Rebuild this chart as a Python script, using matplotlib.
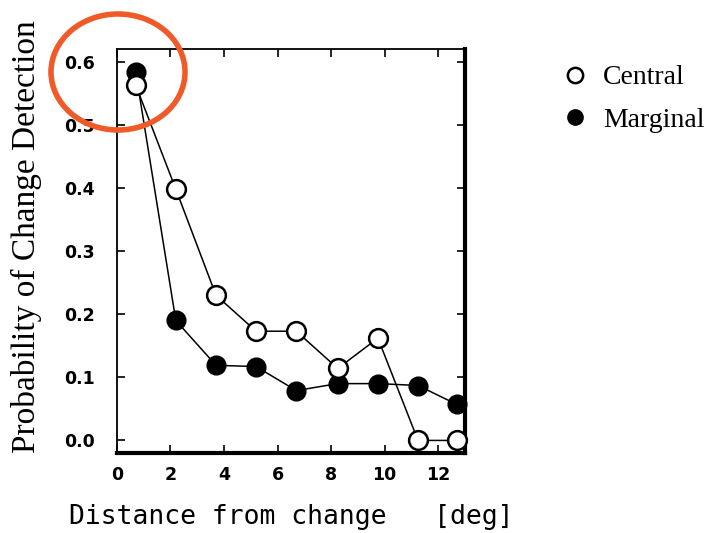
"""Change detection probability vs distance, recreated from a scanned figure."""

import matplotlib

matplotlib.use("Agg")
from matplotlib import pyplot as plt  # noqa: E402
from matplotlib.lines import Line2D  # noqa: E402
from matplotlib.patches import Ellipse  # noqa: E402

distance_deg = [0.7, 2.2, 3.7, 5.2, 6.7, 8.25, 9.75, 11.25, 12.7]
central = [0.563, 0.398, 0.230, 0.173, 0.173, 0.114, 0.162, 0.0, 0.0]
marginal = [0.584, 0.190, 0.119, 0.117, 0.079, 0.090, 0.090, 0.087, 0.057]
x_ticks = [0, 2, 4, 6, 8, 10, 12]
y_ticks = [0.0, 0.1, 0.2, 0.3, 0.4, 0.5, 0.6]

fig = plt.figure(figsize=(7.13, 5.33), dpi=100)
ax = fig.add_axes([0.164, 0.150, 0.488, 0.758])

ax.plot(distance_deg, central, color="black", linewidth=1.1, marker="o",
        markersize=13.5, markerfacecolor="white", markeredgecolor="black",
        markeredgewidth=1.8, clip_on=False, zorder=3)
ax.plot(distance_deg, marginal, color="black", linewidth=1.1, marker="o",
        markersize=13.5, markerfacecolor="black", markeredgecolor="black",
        clip_on=False, zorder=2)

ax.set_xlim(0, 13)
ax.set_ylim(-0.02, 0.62)
ax.set_xticks(x_ticks)
ax.set_yticks(y_ticks)
ax.set_xticklabels([str(t) for t in x_ticks], fontfamily="DejaVu Sans",
                   fontweight="bold", fontsize=12.5)
ax.set_yticklabels([f"{t:.1f}" for t in y_ticks], fontfamily="DejaVu Sans",
                   fontweight="bold", fontsize=12.5)
ax.tick_params(direction="in", length=6, width=1.2, top=True, right=True)
ax.tick_params(axis="y", pad=16)
ax.tick_params(axis="x", pad=9)
for side, spine in ax.spines.items():
    spine.set_linewidth(3 if side in ("right", "bottom") else 1.3)

ax.set_ylabel("Probability of Change Detection", fontfamily="Liberation Serif",
              fontsize=24)
ax.yaxis.set_label_coords(-0.215, 0.535)
ax.set_xlabel("Distance from change   [deg]", fontfamily="DejaVu Sans Mono",
              fontsize=19, labelpad=15)

handles = [
    Line2D([], [], linestyle="none", marker="o", markersize=11,
           markerfacecolor="white", markeredgecolor="black", markeredgewidth=1.8),
    Line2D([], [], linestyle="none", marker="o", markersize=11,
           markerfacecolor="black", markeredgecolor="black"),
]
fig.legend(handles, ["Central", "Marginal"], loc="upper left",
           bbox_to_anchor=(0.748, 0.925), frameon=False, handletextpad=0.4,
           handlelength=1.2, labelspacing=0.6,
           prop={"family": "Liberation Serif", "size": 20})

# red highlight ring drawn over the top-left corner
overlay = fig.add_axes([0, 0, 1, 1], facecolor="none")
overlay.set_xlim(0, 713)
overlay.set_ylim(533, 0)
overlay.axis("off")
overlay.add_patch(Ellipse((118, 72), 134, 116, fill=False,
                          edgecolor="#f05a28", linewidth=4))

fig.savefig("out.png", dpi=100)
